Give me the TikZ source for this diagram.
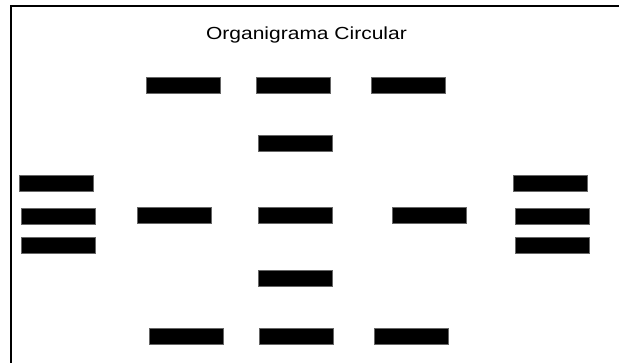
\documentclass[tikz,border=0pt]{standalone}
\usepackage{fontspec}
\setmainfont{Liberation Sans}
\begin{document}
\begin{tikzpicture}[x=1pt,y=1pt,
  bar/.style={fill=black,draw=black!60,line width=0.4pt,minimum width=74pt,minimum height=16pt,inner sep=0pt,outer sep=0pt,anchor=south west},
  frameline/.style={line width=2pt}]
\useasboundingbox (0,0) rectangle (619,363);
\fill[white] (0,0) rectangle (619,363);
% frame (top and left only)
\coordinate (fl) at (10.5,0);
\coordinate (fc) at (10.5,356.5);
\coordinate (fr) at (619,356.5);
\draw[frameline] (fl) -- (fc) -- (fr);
% title
\node[anchor=base,inner sep=0pt] (title) at (306.5,323) {\scalebox{1.2}[1]{\fontsize{17.5}{20}\selectfont Organigrama Circular}};
% top row
\node[bar] (t1) at (146,270) {};
\node[bar] (t2) at (256,270) {};
\node[bar] (t3) at (371,270) {};
% second row
\node[bar] (s1) at (258,212) {};
% left column
\node[bar] (l1) at (19,172) {};
\node[bar] (l2) at (21,139) {};
\node[bar] (l3) at (21,110) {};
% middle row
\node[bar] (m1) at (137,140) {};
\node[bar] (m2) at (258,140) {};
\node[bar] (m3) at (392,140) {};
% right column
\node[bar] (r1) at (513,172) {};
\node[bar] (r2) at (515,139) {};
\node[bar] (r3) at (515,110) {};
% fourth row
\node[bar] (f1) at (258,77) {};
% bottom row
\node[bar] (b1) at (149,19) {};
\node[bar] (b2) at (259,19) {};
\node[bar] (b3) at (374,19) {};
\end{tikzpicture}
\end{document}
